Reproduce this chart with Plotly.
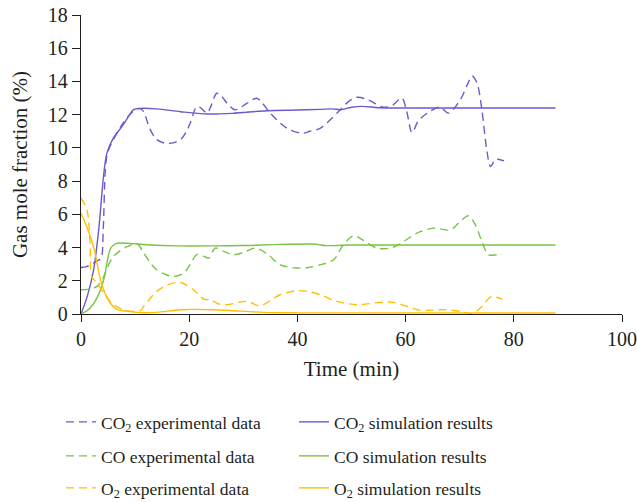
import plotly.graph_objects as go

# Time axis (min) and gas mole fractions (%) for each species
co2_exp_t = [0, 1, 2, 3, 3.7, 4.1, 4.5, 4.9, 6.0, 7.6, 9.0, 10.3, 11.3, 12.8, 14.0, 15.6, 17.0, 18.4,
             19.5, 20.2, 21.4, 22.2, 23.3, 24.0, 25.1, 26.0, 27.0, 28.5, 30.7, 32.5, 33.5, 35.0, 38.1,
             40.8, 42.3, 44.2, 47.3, 49.5, 51.0, 53.0, 55.9, 57.5, 59.3, 60.2, 61.2, 62.3, 64.0, 66.4,
             67.9, 70.1, 71.4, 72.3, 73.2, 74.1, 75.0, 75.7, 76.6, 77.3, 78.2]
co2_exp_y = [2.8, 2.85, 3.0, 3.2, 3.35, 5.0, 8.7, 9.7, 10.5, 11.4, 12.0, 12.35, 12.3, 11.1, 10.5, 10.28,
             10.3, 10.5, 11.0, 11.5, 12.48, 12.4, 12.09, 12.5, 13.29, 13.1, 12.69, 12.29, 12.69, 12.99,
             12.7, 12.09, 11.18, 10.88, 11.0, 11.18, 12.09, 12.8, 13.05, 12.9, 12.45, 12.55, 13.0, 12.2,
             10.92, 11.6, 12.09, 12.45, 12.09, 12.89, 13.8, 14.33, 13.9, 12.3, 9.88, 8.88, 9.32, 9.3, 9.22]

co2_sim_t = [0, 1.1, 2.3, 3.25, 3.9, 4.3, 4.8, 6.0, 7.6, 9.0, 9.7, 11.0, 14, 18.4, 23.3, 28, 34.4, 40,
             44.2, 46.5, 48, 50, 52, 55, 60, 87.7]
co2_sim_y = [0, 1.0, 2.6, 5.0, 7.4, 8.7, 9.7, 10.6, 11.3, 12.0, 12.3, 12.38, 12.35, 12.18, 12.04, 12.08,
             12.24, 12.28, 12.32, 12.35, 12.3, 12.45, 12.5, 12.42, 12.4, 12.4]

co_exp_t = [0, 1.5, 2.96, 4.2, 5.0, 6.0, 7.2, 8.5, 10.35, 11.6, 13, 14.0, 15.5, 17.1, 19.0, 20.2, 21.4,
            22.5, 23.6, 24.8, 26.5, 28.2, 30.0, 32.2, 34.5, 36.8, 39.9, 42, 44.2, 46.7, 48.5, 50.4,
            52.2, 54.7, 57.2, 59, 62.1, 65.2, 68.3, 70.4, 71.6, 72.9, 74.1, 75.3, 76.9, 77.8]
co_exp_y = [1.46, 1.5, 1.66, 2.26, 2.9, 3.46, 3.8, 4.05, 4.23, 3.67, 3.0, 2.66, 2.4, 2.26, 2.47, 3.0,
            3.57, 3.5, 3.37, 3.97, 3.75, 3.57, 3.7, 3.97, 3.6, 2.96, 2.77, 2.8, 2.96, 3.27, 4.17, 4.71,
            4.43, 3.97, 3.97, 4.23, 4.87, 5.17, 5.07, 5.67, 5.91, 5.37, 4.37, 3.57, 3.57, 3.6]

co_sim_t = [0, 1.5, 3, 4.2, 5.4, 6.2, 7.0, 9, 12.2, 18, 24.5, 30, 36.8, 42.8, 44, 45, 50, 87.7]
co_sim_y = [0, 0.3, 1.0, 2.06, 3.9, 4.2, 4.27, 4.25, 4.17, 4.1, 4.1, 4.12, 4.19, 4.21, 4.18, 4.12,
            4.15, 4.15]

o2_exp_t = [0, 1.1, 1.7, 2.0, 2.96, 4.2, 6.0, 8.5, 11.0, 11.6, 14.0, 16, 18.4, 20.8, 22.7, 24, 25.5,
            27, 30.7, 33.1, 36.8, 39.9, 42, 44.2, 47.3, 51, 55.3, 57.8, 60.3, 62.7, 67, 70.1, 72.3,
            73.8, 75.7, 76.6, 77.9]
o2_exp_y = [6.97, 6.27, 4.07, 2.26, 1.86, 1.26, 0.56, 0.2, 0.2, 0.46, 1.36, 1.75, 1.9, 1.46, 0.9, 0.85,
            0.6, 0.56, 0.76, 0.5, 1.16, 1.4, 1.35, 1.16, 0.76, 0.56, 0.7, 0.7, 0.46, 0.22, 0.26, 0.16,
            0.02, 0.36, 1.02, 1.02, 0.9]

o2_sim_t = [0, 1.0, 2.3, 3.6, 4.5, 5.4, 6.5, 8.5, 11, 14, 18.4, 24.5, 28, 33.8, 40, 87.7]
o2_sim_y = [6.07, 5.3, 4.07, 2.06, 1.2, 0.66, 0.3, 0.16, 0.08, 0.1, 0.26, 0.26, 0.2, 0.1, 0.07, 0.06]

x_ticks = [0, 20, 40, 60, 80, 100]
y_ticks = [0, 2, 4, 6, 8, 10, 12, 14, 16, 18]

PURPLE = "#6a5bcd"
GREEN = "#78c444"
YELLOW = "#ffbf00"
FONT = "Liberation Serif"
AXIS = "#231f20"
DASH = "8px,5px"

# one legend row per species: (legend id, [(name, t, y, colour, dash), ...])
rows = [
    ("legend", [("CO<sub>2</sub> experimental data", co2_exp_t, co2_exp_y, PURPLE, DASH),
                ("CO<sub>2</sub> simulation results", co2_sim_t, co2_sim_y, PURPLE, "solid")]),
    ("legend2", [("CO experimental data", co_exp_t, co_exp_y, GREEN, DASH),
                 ("CO simulation results", co_sim_t, co_sim_y, GREEN, "solid")]),
    ("legend3", [("O<sub>2</sub> experimental data", o2_exp_t, o2_exp_y, YELLOW, DASH),
                 ("O<sub>2</sub> simulation results", o2_sim_t, o2_sim_y, YELLOW, "solid")]),
]

fig = go.Figure()
for legend_id, entries in rows:
    for name, t, y, color, dash in entries:
        fig.add_trace(go.Scatter(
            x=t, y=y, name=name, mode="lines", legend=legend_id,
            line=dict(color=color, width=1.4, dash=dash, shape="spline", smoothing=0.9),
        ))

W, H = 637, 502


def legend_at(row_center_px):
    return dict(
        orientation="h", xref="container", yref="container",
        x=61 / W, xanchor="left", y=1 - row_center_px / H, yanchor="middle",
        entrywidth=188, entrywidthmode="pixels",
        font=dict(family=FONT, size=17.5, color=AXIS),
        bgcolor="rgba(0,0,0,0)", traceorder="normal",
    )


fig.update_layout(
    template="none",
    width=W, height=H,
    margin=dict(l=81, r=15, t=15, b=188),
    plot_bgcolor="white", paper_bgcolor="white",
    font=dict(family=FONT, size=20, color=AXIS),
    showlegend=True,
    legend=legend_at(422),
    legend2=legend_at(456),
    legend3=legend_at(488),
    xaxis=dict(
        range=[0, 100], tickvals=x_ticks, showgrid=False, zeroline=False, automargin=False,
        showline=True, linecolor=AXIS, linewidth=1.3,
        ticks="outside", ticklen=7, tickwidth=1.3, tickcolor=AXIS,
        tickfont=dict(size=20),
        title=dict(text="Time (min)", font=dict(size=21), standoff=12),
    ),
    yaxis=dict(
        range=[0, 18], tickvals=y_ticks, showgrid=False, zeroline=False, automargin=False,
        showline=True, linecolor=AXIS, linewidth=1.3,
        ticks="outside", ticklen=8, tickwidth=1.3, tickcolor=AXIS,
        tickfont=dict(size=20),
        title=dict(text="Gas mole fraction (%)", font=dict(size=21), standoff=14),
    ),
)

fig.write_html("out.html")
